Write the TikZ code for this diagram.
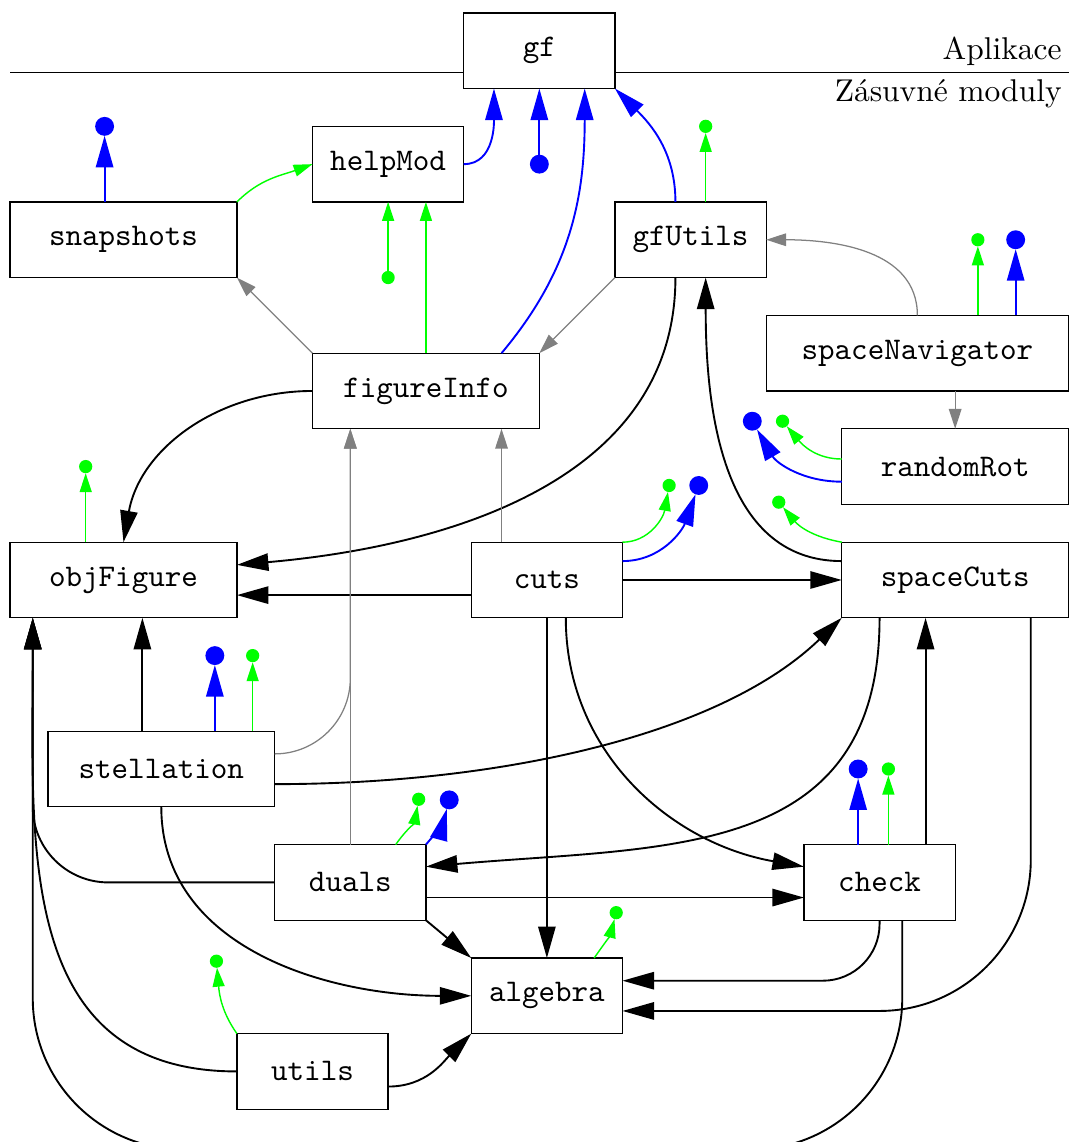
\documentclass[tikz,border=0pt]{standalone}
\usepackage{tikz}
\usetikzlibrary{positioning}
\usetikzlibrary{arrows.meta}
\tikzset{
  myarrow/.style={
    draw=black,
    semithick,
    -{Triangle[length=10pt,width=5.5pt]},
  },
  myblue/.style={
    draw=blue,
    semithick,
    -{Triangle[length=10pt,width=5.5pt]},
  },
  mygreen/.style={
    draw=green,
    line width=0.45pt,
    -{Triangle[length=6pt,width=3.8pt]},
  },
  mygray/.style={
    draw=gray,
    thin,
    -{Triangle[length=6.3pt,width=4pt]},
  },
  mybox/.style={
    draw=black,
    shape=rectangle,
    align=center,
    inner sep=0pt,
    outer sep=0pt,
    minimum width=48pt,
    minimum height=24pt,
    font=\ttfamily
  },
  mywidebox/.style={
    mybox,
    minimum width=72pt
  },
  mybluedot/.style={
    shape=circle,
    fill=blue,
    inner sep=0pt,
    outer sep=0pt,
    minimum size=6pt
  },
  mygreendot/.style={
    shape=circle,
    fill=green,
    inner sep=0pt,
    outer sep=0pt,
    minimum size=4.2pt
  }
}

\begin{document}
\begin{tikzpicture}
  \useasboundingbox (-3.2pt,4.1pt) rectangle (336pt,-358.4pt);

  % modules
  \node[mybox]                             (gf)             at (168pt,-12pt)                                   {gf};
  \node[mybox]                             (helpMod)        [below left=12pt and 0pt of gf]                    {helpMod};
  \node[mywidebox]                         (snapshots)      [below left=0pt and 24pt of helpMod]               {snapshots};
  \node[mybox]                             (gfUtils)        [below right=36pt and 0pt of gf]                   {gfUtils};
  \node[mybox, minimum width=96pt]         (spaceNavigator) [below right=12pt and 0pt of gfUtils]              {spaceNavigator};
  \node[mywidebox]                         (figureInfo)     [below right=24pt and 24pt of snapshots]           {figureInfo};
  \node[mywidebox]                         (randomRot)      [below left=12pt and 0pt of spaceNavigator.south east] {randomRot};
  \node[mywidebox]                         (objFigure)      [below=84pt of snapshots]                          {objFigure};
  \node[mybox]                             (cuts)           [right=74.4pt of objFigure]                        {cuts};
  \node[mywidebox]                         (spaceCuts)      [below=12pt of randomRot]                          {spaceCuts};
  \node[mywidebox]                         (stellation)     [below right=36pt and -60pt of objFigure]          {stellation};
  \node[mybox]                             (duals)          [below right=12pt and 0pt of stellation]           {duals};
  \node[mybox]                             (check)          [right=120pt of duals]                             {check};
  \node[mybox]                             (algebra)        [below=108pt of cuts]                              {algebra};
  \node[mybox]                             (utils)          [below right=36pt and -60pt of duals]              {utils};

  % layers
  \coordinate (layerW) at ([yshift=-7pt]gf.west);
  \coordinate (layerE) at ([yshift=-7pt]gf.east);
  \draw (layerW -| snapshots.west) -- (layerW);
  \draw (layerE) -- (layerE -| spaceNavigator.east);
  \node[anchor=south east, inner sep=2pt] (appLabel)    at (layerE -| spaceNavigator.east) {Aplikace};
  \node[anchor=north east, inner sep=2pt] (pluginLabel) at (layerE -| spaceNavigator.east) {Zásuvné moduly};

  % interfaces
  \node[mybluedot]  (gfDot)              at ([yshift=-24pt]gf.south)                          {};
  \node[mybluedot]  (snapshotsDot)       at ([shift={(-6pt,24pt)}]snapshots.north)           {};
  \node[mygreendot] (helpModDot)         at ([yshift=-24pt]helpMod.south)                     {};
  \node[mygreendot] (gfUtilsDot)         at ([shift={(4.8pt,24pt)}]gfUtils.north)            {};
  \node[mygreendot] (spaceNavigatorDotG) at ([shift={(19.2pt,24pt)}]spaceNavigator.north)    {};
  \node[mybluedot]  (spaceNavigatorDotB) at ([shift={(31.2pt,24pt)}]spaceNavigator.north)    {};
  \node[mybluedot]  (randomRotDotB)      at ([shift={(-28.4pt,14.4pt)}]randomRot.west)       {};
  \node[mygreendot] (randomRotDotG)      at ([shift={(-18.8pt,14.4pt)}]randomRot.west)       {};
  \node[mygreendot] (spaceCutsDot)       at ([shift={(-20pt,12.7pt)}]spaceCuts.north west)   {};
  \node[mygreendot] (cutsDotG)           at ([shift={(14.8pt,18pt)}]cuts.north east)         {};
  \node[mybluedot]  (cutsDotB)           at ([shift={(24.2pt,18pt)}]cuts.north east)         {};
  \node[mygreendot] (objFigureDot)       at ([shift={(-12pt,24pt)}]objFigure.north)          {};
  \node[mybluedot]  (stellationDotB)     at ([shift={(17pt,24pt)}]stellation.north)          {};
  \node[mygreendot] (stellationDotG)     at ([shift={(29pt,24pt)}]stellation.north)          {};
  \node[mygreendot] (dualsDotG)          at ([shift={(-2.3pt,14.4pt)}]duals.north east)      {};
  \node[mybluedot]  (dualsDotB)          at ([shift={(7.4pt,14.2pt)}]duals.north east)       {};
  \node[mybluedot]  (checkDotB)          at ([shift={(-6.8pt,24pt)}]check.north)             {};
  \node[mygreendot] (checkDotG)          at ([shift={(2.8pt,24pt)}]check.north)              {};
  \node[mygreendot] (algebraDot)         at ([shift={(-2pt,14.4pt)}]algebra.north east)      {};
  \node[mygreendot] (utilsDot)           at ([shift={(-6.5pt,23pt)}]utils.north west)        {};

  \coordinate (objIn)        at ([xshift=7.2pt]objFigure.south west);
  \coordinate (figureInfoIn) at ([xshift=-24pt]figureInfo.south);

  % dependencies
  \draw[myarrow] (figureInfo.west) to[out=180,in=80] (objFigure.north);
  \draw[myarrow] ([xshift=-4.8pt]gfUtils.south) to[out=-90,in=5] ([yshift=4.8pt]objFigure.east);
  \draw[myarrow] ([yshift=-4.8pt]cuts.west) -- ([yshift=-4.8pt]objFigure.east);
  \draw[myarrow] (cuts) -- (spaceCuts);
  \draw[myarrow] (cuts) -- (algebra);
  \draw[myarrow] ([xshift=6pt]cuts.south) to[out=-90,in=170] ([yshift=5pt]check.west);
  \draw[myarrow] ([yshift=6pt]spaceCuts.west) to[out=180,in=-90] ([xshift=4.8pt]gfUtils.south);
  \draw[myarrow] ([xshift=-24pt]spaceCuts.south) to[out=-90,in=5,looseness=1.2] ([yshift=5pt]duals.east);
  \draw[myarrow] ([yshift=-4.8pt]stellation.east) to[out=0,in=224,out distance=71pt,in distance=54pt] (spaceCuts.south west);
  \draw[myarrow, rounded corners=48pt] ([xshift=24pt]spaceCuts.south) |- ([yshift=-4.8pt]algebra.east);
  \draw[myarrow] ([xshift=14.6pt]check.north) -- ([xshift=-9.4pt]spaceCuts.south);
  \draw[myarrow, rounded corners=18pt] (check.south) |- ([yshift=4.8pt]algebra.east);
  \draw[myarrow, rounded corners=48pt] ([xshift=7.2pt]check.south) |- ([yshift=-12.8pt]utils.south) -| (objIn);
  \draw[myarrow] ([xshift=-6pt]stellation.north) -- ([xshift=6pt]objFigure.south);
  \draw[myarrow] (stellation.south) to[out=-90,in=180] (algebra.west);
  \draw[myarrow, rounded corners=24pt] (duals.west) -| (objIn);
  \draw[myarrow] (utils.west) to[out=180,in=-90,looseness=1.15] (objIn);
  \draw[myarrow] ([yshift=-4.8pt]duals.east) -- ([yshift=-4.8pt]check.west);
  \draw[myarrow] (duals.south east) -- (algebra.north west);
  \draw[myarrow] ([yshift=-4.8pt]utils.east) to[out=0,in=225] (algebra.south west);

  \draw[mygray] (figureInfo.north west) -- (snapshots.south east);
  \draw[mygray] (gfUtils.south west) -- (figureInfo.north east);
  \draw[mygray] (spaceNavigator.north) to[out=90,in=0] (gfUtils.east);
  \draw[mygray] ([xshift=12pt]spaceNavigator.south) -- (randomRot.north);
  \draw[mygray] (duals.north) -- (figureInfoIn);
  \draw[mygray, rounded corners=24pt] ([yshift=4.8pt]stellation.east) -| (figureInfoIn);
  \draw[mygray] ([xshift=-14.4pt]cuts.north) -- ([xshift=24pt]figureInfo.south);

  \draw[mygreen] (snapshots.north east) to[out=45,in=200] (helpMod.west);
  \draw[mygreen] (helpModDot) -- (helpMod.south);
  \draw[mygreen] (figureInfo.north) -- ([xshift=12pt]helpMod.south);
  \draw[mygreen] (gfUtilsDot |- gfUtils.north) -- (gfUtilsDot);
  \draw[mygreen] (spaceNavigatorDotG |- spaceNavigator.north) -- (spaceNavigatorDotG);
  \draw[mygreen] ([yshift=2.4pt]randomRot.west) to[out=180,in=-50] (randomRotDotG);
  \draw[mygreen] (spaceCuts.north west) to[out=170,in=-50] (spaceCutsDot);
  \draw[mygreen] (cuts.north east) to[out=0,in=-100] (cutsDotG);
  \draw[mygreen] (objFigureDot |- objFigure.north) -- (objFigureDot);
  \draw[mygreen] (stellationDotG |- stellation.north) -- (stellationDotG);
  \draw[mygreen] ([xshift=14.4pt]duals.north) to[out=55,in=-100] (dualsDotG);
  \draw[mygreen] (checkDotG |- check.north) -- (checkDotG);
  \draw[mygreen] ([xshift=15pt]algebra.north) to[out=55,in=-105] (algebraDot);
  \draw[mygreen] (utils.north west) to[out=125,in=-85] (utilsDot);

  \draw[myblue] (helpMod.east) to[out=0,in=-90] ([xshift=-14.4pt]gf.south);
  \draw[myblue] (gfDot) -- (gf.south);
  \draw[myblue] ([xshift=24pt]figureInfo.north) to[out=50,in=-90] ([xshift=14.4pt]gf.south);
  \draw[myblue] ([xshift=-4.8pt]gfUtils.north) to[out=90,in=-45] (gf.south east);
  \draw[myblue] (snapshotsDot |- snapshots.north) -- (snapshotsDot);
  \draw[myblue] (spaceNavigatorDotB |- spaceNavigator.north) -- (spaceNavigatorDotB);
  \draw[myblue] ([yshift=-4.8pt]randomRot.west) to[out=180,in=-60] (randomRotDotB);
  \draw[myblue] ([yshift=6pt]cuts.east) to[out=0,in=-110] (cutsDotB);
  \draw[myblue] (stellationDotB |- stellation.north) -- (stellationDotB);
  \draw[myblue] (duals.north east) to[out=50,in=-105] (dualsDotB);
  \draw[myblue] (checkDotB |- check.north) -- (checkDotB);
\end{tikzpicture}
\end{document}
